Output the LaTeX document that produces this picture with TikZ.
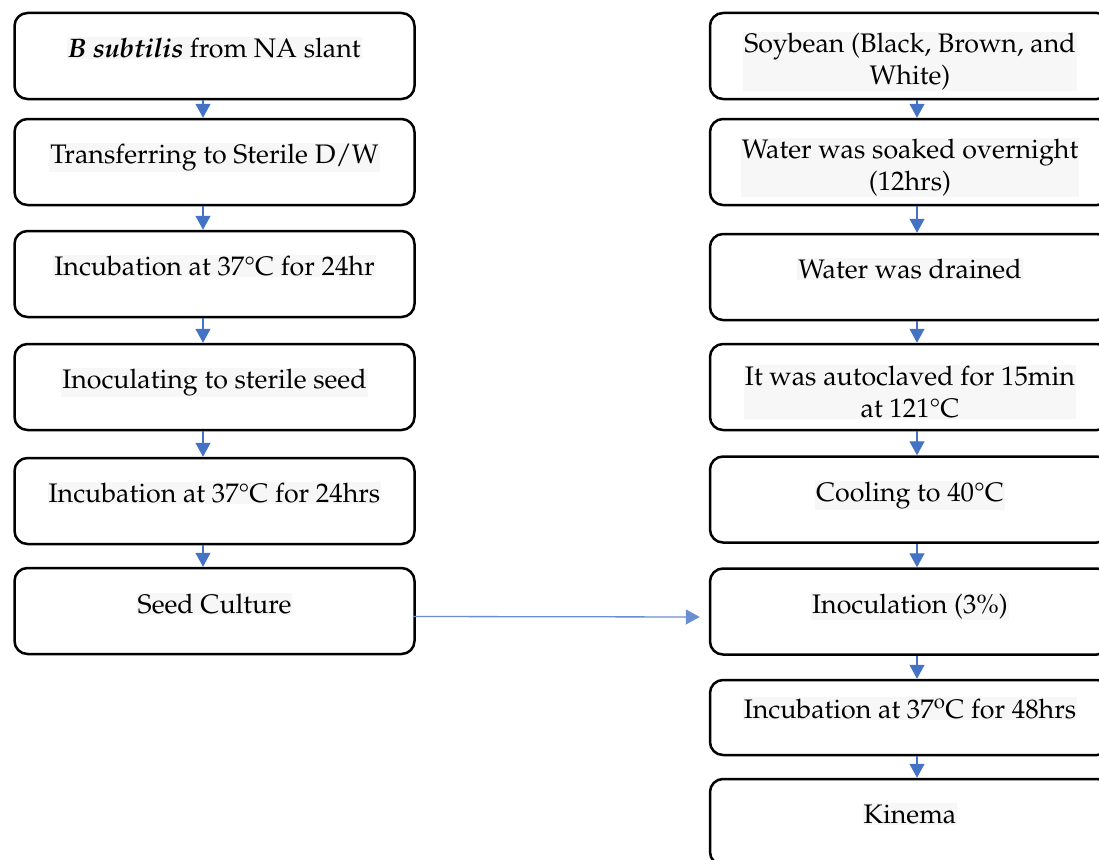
\documentclass[tikz,border=0pt]{standalone}
\usepackage[T1]{fontenc}
\usepackage{mathpazo}
\usepackage{tikz}
\usetikzlibrary{arrows.meta}
\definecolor{flowblue}{HTML}{4472C4}
\definecolor{linkblue}{HTML}{6A8ED2}

\begin{document}
\begin{tikzpicture}[x=1pt, y=-1pt,
  box/.style={draw, line width=2.5pt, rounded corners=13pt, minimum width=400pt, minimum height=86pt, inner sep=0pt},
  txt/.style={font=\fontsize{26.8}{32}\selectfont, fill=black!3, inner sep=1pt, anchor=base, align=center},
  flow/.style={draw=flowblue, line width=1.3pt, -{Triangle[width=15pt,length=14pt]}}]
\useasboundingbox (0,0) rectangle (1099,859);
\clip (0,0) rectangle (1099,859);

% left column
\node[box] (slant) at (214.5,56) {};
\node[box] (transfer) at (214.5,162) {};
\node[box] (incub1) at (214.5,274) {};
\node[box] (inoc seed) at (214.5,387) {};
\node[box] (incub2) at (214.5,501) {};
\node[box] (seed culture) at (214.5,611) {};

\node[txt] (slant text) at (214.5,57) {\textbf{\textit{B subtilis}} from NA slant};
\node[txt] (transfer text) at (214.5,163) {Transferring to Sterile D/W};
\node[txt] (incub1 text) at (214.5,275) {Incubation at 37\textdegree C for 24hr};
\node[txt] (inoc seed text) at (214.5,388) {Inoculating to sterile seed};
\node[txt] (incub2 text) at (214.5,502) {Incubation at 37\textdegree C for 24hrs};
\node[txt] (seed culture text) at (214.5,613) {Seed Culture};

% right column
\node[box] (soybean) at (910,56) {};
\node[box] (soak) at (910,162) {};
\node[box] (drain) at (910,277) {};
\node[box] (autoclave) at (910,387) {};
\node[box] (cooling) at (910,499.5) {};
\node[box] (inoculation) at (910,611.5) {};
\node[box, minimum height=75pt] (incub3) at (910,717.5) {};
\node[box] (kinema) at (910,822) {};

% base of a two-line node is its last line
\node[txt] (soybean text) at (910,84) {Soybean (Black, Brown, and\\White)};
\node[txt] (soak text) at (910,190) {Water was soaked overnight\\(12hrs)};
\node[txt] (drain text) at (910,278) {Water was drained};
\node[txt] (autoclave text) at (910,417) {It was autoclaved for 15min\\at 121\textdegree C};
\node[txt] (cooling text) at (910,501) {Cooling to 40\textdegree C};
\node[txt] (inoculation text) at (910,613) {Inoculation (3\%)};
\node[txt] (incub3 text) at (910,718) {Incubation at 37\textsuperscript{o}C for 48hrs};
\node[txt] (kinema text) at (910,823) {Kinema};

\draw ([xshift=-11.5pt]slant.south) edge[flow] ([xshift=-11.5pt]transfer.north);
\draw ([xshift=-11.5pt]transfer.south) edge[flow] ([xshift=-11.5pt]incub1.north);
\draw ([xshift=-11.5pt]incub1.south) edge[flow] ([xshift=-11.5pt]inoc seed.north);
\draw ([xshift=-11.5pt]inoc seed.south) edge[flow] ([xshift=-11.5pt]incub2.north);
\draw ([xshift=-11.5pt]incub2.south) edge[flow] ([xshift=-11.5pt]seed culture.north);

\draw ([xshift=7pt]soybean.south) edge[flow] ([xshift=7pt]soak.north);
\draw ([xshift=7pt]soak.south) edge[flow] ([xshift=7pt]drain.north);
\draw ([xshift=7pt]drain.south) edge[flow] ([xshift=7pt]autoclave.north);
\draw ([xshift=7pt]autoclave.south) edge[flow] ([xshift=7pt]cooling.north);
\draw ([xshift=7pt]cooling.south) edge[flow] ([xshift=7pt]inoculation.north);
\draw ([xshift=7pt]inoculation.south) edge[flow] ([xshift=7pt]incub3.north);
\draw ([xshift=7pt]incub3.south) edge[flow] ([xshift=7pt]kinema.north);

\draw ([yshift=-5.5pt]seed culture.east) edge[flow, draw=linkblue, shorten >=9pt, shorten <=-3pt] ([yshift=-5.5pt]inoculation.west);
\end{tikzpicture}
\end{document}
